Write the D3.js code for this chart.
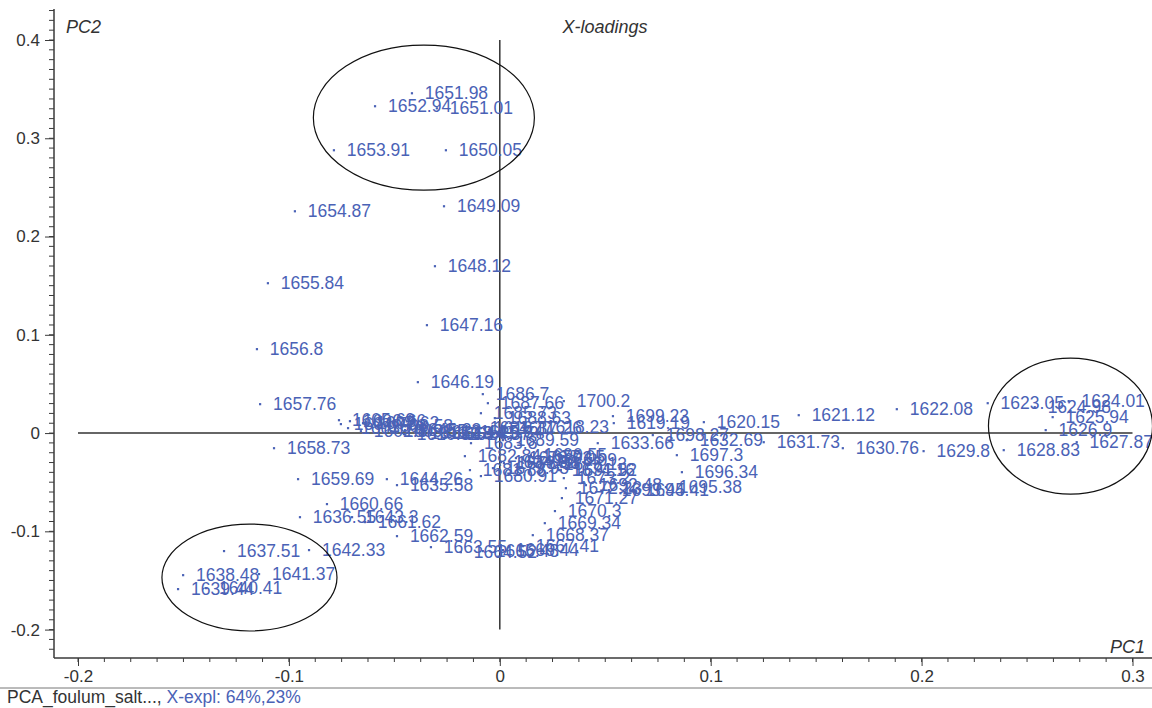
<!DOCTYPE html>
<html>
<head>
<meta charset="utf-8">
<script src="https://cdn.jsdelivr.net/npm/d3@7/dist/d3.min.js"></script>
<style>
  html, body { margin: 0; padding: 0; background: #fff; }
  svg { display: block; font-family: "Liberation Sans", Arial, sans-serif; }
</style>
</head>
<body>
<svg id="chart" width="1152" height="708"></svg>
<script>
// --- DATA ---
const wavenumbers = [
  "1700.2","1699.23","1698.27","1697.3","1696.34","1695.38","1694.41","1693.45","1692.48","1691.52",
  "1690.55","1689.59","1688.63","1687.66","1686.7","1685.73","1684.77","1683.8","1682.84","1681.88",
  "1680.91","1679.95","1678.98","1678.02","1677.05","1676.09","1675.13","1674.16","1673.2","1672.23",
  "1671.27","1670.3","1669.34","1668.37","1667.41","1666.44","1665.48","1664.52","1663.55","1662.59",
  "1661.62","1660.66","1659.69","1658.73","1657.76","1656.8","1655.84","1654.87","1653.91","1652.94",
  "1651.98","1651.01","1650.05","1649.09","1648.12","1647.16","1646.19","1645.23","1644.26","1643.3",
  "1642.33","1641.37","1640.41","1639.44","1638.48","1637.51","1636.55","1635.58","1634.62","1633.66",
  "1632.69","1631.73","1630.76","1629.8","1628.83","1627.87","1626.9","1625.94","1624.98","1624.01",
  "1623.05","1622.08","1621.12","1620.15","1619.19","1618.23","1617.26","1616.3","1615.34","1614.37",
  "1613.41","1612.44","1611.48","1610.51","1609.55","1608.58","1607.62","1606.66","1605.69","1604.73",
  "1603.76","1602.8"
];
const pc1 = [
  0.0303, 0.0536, 0.0725, 0.0839, 0.0863, 0.0787, 0.0630, 0.0517, 0.0408, 0.0289,
  0.0147, 0.0014, -0.0024, -0.0057, -0.0081, -0.0090, -0.0109, -0.0137, -0.0166, -0.0142,
  -0.0090, -0.0033, 0.0019, 0.0076, 0.0137, 0.0194, 0.0242, 0.0280, 0.0303, 0.0313,
  0.0294, 0.0261, 0.0213, 0.0156, 0.0109, 0.0014, -0.0081, -0.0185, -0.0327, -0.0488,
  -0.0640, -0.0820, -0.0957, -0.1071, -0.1137, -0.1152, -0.1100, -0.0972, -0.0787, -0.0592,
  -0.0417, -0.0299, -0.0256, -0.0265, -0.0308, -0.0346, -0.0389, -0.0450, -0.0536, -0.0701,
  -0.0905, -0.1142, -0.1393, -0.1526, -0.1502, -0.1308, -0.0948, -0.0488, 0.0005, 0.0464,
  0.0886, 0.1251, 0.1626, 0.2009, 0.2389, 0.2735, 0.2588, 0.2621, 0.2536, 0.2697,
  0.2313, 0.1882, 0.1417, 0.0967, 0.0540, 0.0156, 0.0028, -0.0090, -0.0156, -0.0218,
  -0.0280, -0.0336, -0.0393, -0.0455, -0.0517, -0.0583, -0.0649, -0.0711, -0.0763, -0.0754,
  -0.0720, -0.0659
];
const pc2 = [
  0.0326, 0.0173, -0.0020, -0.0224, -0.0397, -0.0549, -0.0580, -0.0580, -0.0529, -0.0376,
  -0.0224, -0.0071, 0.0153, 0.0305, 0.0397, 0.0203, 0.0051, -0.0102, -0.0234, -0.0376,
  -0.0437, -0.0356, -0.0305, -0.0254, -0.0244, -0.0275, -0.0315, -0.0376, -0.0458, -0.0560,
  -0.0661, -0.0793, -0.0916, -0.1038, -0.1150, -0.1190, -0.1200, -0.1211, -0.1160, -0.1048,
  -0.0905, -0.0722, -0.0468, -0.0153, 0.0295, 0.0855, 0.1526, 0.2258, 0.2879, 0.3327,
  0.3459, 0.3306, 0.2879, 0.2309, 0.1699, 0.1099, 0.0519, 0.0031, -0.0468, -0.0855,
  -0.1190, -0.1434, -0.1577, -0.1587, -0.1445, -0.1200, -0.0855, -0.0529, -0.0295, -0.0102,
  -0.0071, -0.0092, -0.0153, -0.0183, -0.0173, -0.0092, 0.0031, 0.0163, 0.0264, 0.0326,
  0.0305, 0.0244, 0.0183, 0.0112, 0.0102, 0.0061, 0.0051, 0.0051, 0.0010, -0.0010,
  0.0000, 0.0010, 0.0000, -0.0010, 0.0020, 0.0071, 0.0102, 0.0122, 0.0132, 0.0092,
  0.0051, 0.0020
];

// hand-drawn ellipses marking the groups (data units)
const ellipseCx = [-0.036, -0.1187, 0.2706];
const ellipseCy = [0.321, -0.147, 0.0071];
const ellipseRx = [0.0524, 0.0415, 0.0389];
const ellipseRy = [0.0738, 0.0544, 0.0692];

const xTicks = [-0.2, -0.1, 0, 0.1, 0.2, 0.3];
const yTicks = [-0.2, -0.1, 0, 0.1, 0.2, 0.3, 0.4];
const xTickLabels = ["-0.2", "-0.1", "0", "0.1", "0.2", "0.3"];
const yTickLabels = ["-0.2", "-0.1", "0", "0.1", "0.2", "0.3", "0.4"];

const title = "X-loadings";
const xName = "PC1";
const yName = "PC2";
const footerName = "PCA_foulum_salt...,";
const footerExpl = " X-expl: 64%,23%";

// --- LAYOUT ---
const svg = d3.select("#chart");
const W = 1152, H = 708;
const plotLeft = 54, plotTop = 9, plotBottom = 658;

const x = d3.scaleLinear().domain([-0.2, 0.3]).range([78, 1132.5]);
const y = d3.scaleLinear().domain([-0.2, 0.4]).range([629.6, 40]);

const blue = "#4a62b6";
const axisCol = "#3a3a3a";

// clip so labels running off the right are cut like in the source
svg.append("defs").append("clipPath").attr("id", "plotclip")
  .append("rect").attr("x", plotLeft + 1).attr("y", plotTop).attr("width", W - plotLeft).attr("height", plotBottom - plotTop - 1);

// zero lines
svg.append("line")
  .attr("x1", x(-0.2)).attr("x2", x(0.3)).attr("y1", y(0)).attr("y2", y(0))
  .attr("stroke", "#333").attr("stroke-width", 1.5);
svg.append("line")
  .attr("x1", x(0)).attr("x2", x(0)).attr("y1", y(0.4)).attr("y2", y(-0.2))
  .attr("stroke", "#333").attr("stroke-width", 1.5);

// axes
const xAxis = d3.axisBottom(x).tickValues(xTicks).tickSize(8).tickPadding(4)
  .tickFormat((d, i) => xTickLabels[i]);
const gx = svg.append("g").attr("transform", `translate(0,${plotBottom})`).call(xAxis);
gx.select(".domain").remove();

const xMinor = d3.range(-0.2125, 0.31, 0.0125).filter(v => v > x.invert(plotLeft));
gx.selectAll(".minor").data(xMinor).join("line").attr("class", "minor")
  .attr("x1", d => x(d)).attr("x2", d => x(d)).attr("y1", 0).attr("y2", 4)
  .attr("stroke", axisCol);

const yAxis = d3.axisLeft(y).tickValues(yTicks).tickSize(9).tickPadding(5)
  .tickFormat((d, i) => yTickLabels[i]);
const gy = svg.append("g").attr("transform", `translate(${plotLeft},0)`).call(yAxis);
gy.select(".domain").remove();

const yMinor = d3.range(-22, 44).map(v => v / 100);
gy.selectAll(".minor").data(yMinor).join("line").attr("class", "minor")
  .attr("x1", -5).attr("x2", 0).attr("y1", d => y(d)).attr("y2", d => y(d))
  .attr("stroke", axisCol);

[gx, gy].forEach(g => {
  g.selectAll(".tick line").attr("stroke", axisCol);
  g.selectAll(".tick text").attr("fill", "#333").style("font-size", "17px")
    .style("font-family", "'Liberation Sans', Arial, sans-serif");
});

// axis frame lines
svg.append("line").attr("x1", plotLeft).attr("x2", plotLeft).attr("y1", plotTop).attr("y2", plotBottom)
  .attr("stroke", axisCol).attr("stroke-width", 1.5);
svg.append("line").attr("x1", plotLeft).attr("x2", W).attr("y1", plotBottom).attr("y2", plotBottom)
  .attr("stroke", axisCol).attr("stroke-width", 1.5);
svg.append("line").attr("x1", 0).attr("x2", W).attr("y1", 688).attr("y2", 688)
  .attr("stroke", "#777").attr("stroke-width", 1);

// points and labels
const points = wavenumbers.map((w, i) => ({ w, px: pc1[i], py: pc2[i] }));
const gp = svg.append("g").attr("clip-path", "url(#plotclip)");
gp.selectAll("rect.pt").data(points).join("rect").attr("class", "pt")
  .attr("x", d => x(d.px) - 1).attr("y", d => y(d.py) - 1)
  .attr("width", 2.2).attr("height", 2.2).attr("fill", blue);
gp.selectAll("text.lbl").data(points).join("text").attr("class", "lbl")
  .attr("x", d => x(d.px) + 13).attr("y", d => y(d.py)).attr("dy", "0.36em")
  .attr("fill", blue).style("font-size", "17.5px")
  .text(d => d.w);

// ellipses
svg.selectAll("ellipse").data(ellipseCx).join("ellipse")
  .attr("cx", d => x(d))
  .attr("cy", (d, i) => y(ellipseCy[i]))
  .attr("rx", (d, i) => x(ellipseRx[i]) - x(0))
  .attr("ry", (d, i) => y(0) - y(ellipseRy[i]))
  .attr("fill", "none").attr("stroke", "#111").attr("stroke-width", 1.2);

// titles
svg.append("text").attr("x", 605).attr("y", 33).attr("text-anchor", "middle")
  .style("font-style", "italic").style("font-size", "18px").attr("fill", "#333").text(title);
svg.append("text").attr("x", 66).attr("y", 33)
  .style("font-style", "italic").style("font-size", "18px").attr("fill", "#333").text(yName);
svg.append("text").attr("x", 1145).attr("y", 653).attr("text-anchor", "end")
  .style("font-style", "italic").style("font-size", "18px").attr("fill", "#333").text(xName);

const foot = svg.append("text").attr("x", 7).attr("y", 703).style("font-size", "17.5px");
foot.append("tspan").attr("fill", "#333").text(footerName);
foot.append("tspan").attr("fill", blue).text(footerExpl);
</script>
</body>
</html>
